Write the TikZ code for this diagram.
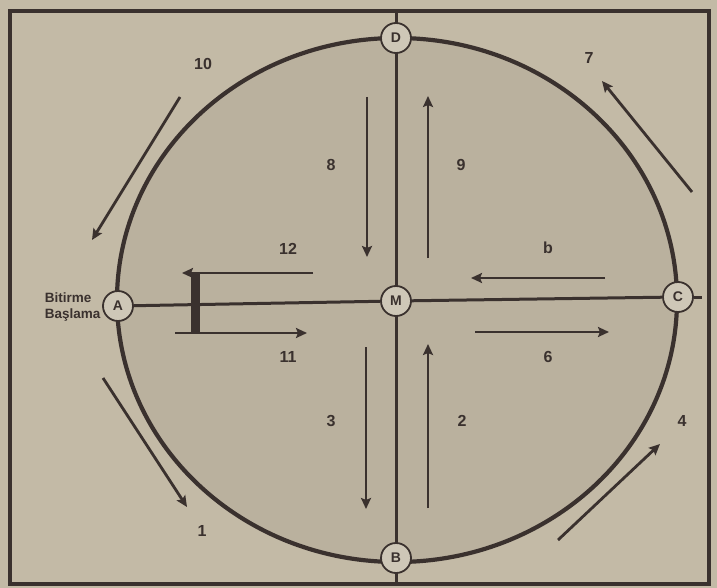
\documentclass[tikz,border=0pt]{standalone}
\usepackage{fontspec}
\setmainfont{Liberation Sans}
\setsansfont{Liberation Sans}
\usetikzlibrary{arrows.meta, positioning}
\definecolor{inkcolor}{HTML}{3A312E}
\definecolor{paperfill}{HTML}{C3BAA6}
\definecolor{discfill}{HTML}{BAB19E}
\definecolor{stationfill}{HTML}{CEC7B7}

\begin{document}
\begin{tikzpicture}[
  x=1pt, y=-1pt, >=Stealth,
  every node/.style={font=\sffamily\bfseries, text=inkcolor},
]

\tikzset{
  station/.style={circle, draw=inkcolor, line width=1.8pt, fill=stationfill,
    minimum size=30pt, inner sep=0pt, font=\sffamily\bfseries\fontsize{14}{14}\selectfont},
  flowline/.style={-{Stealth[length=11pt, width=10pt, inset=2pt]}, inkcolor, line width=2.8pt},
  axis/.style={inkcolor, line width=3pt},
  steplabel/.style={font=\sffamily\bfseries\fontsize{16}{16}\selectfont},
}

\useasboundingbox[fill=paperfill] (0,0) rectangle (717,588);

% ---- frame and track ----
\draw[inkcolor, line width=3.6pt] (10,11) rectangle (709,584);
\coordinate (ctr) at (397,300);
\draw[inkcolor, line width=4.2pt, fill=discfill] (ctr) ellipse [x radius=280, y radius=262];

\coordinate (topend) at (396,11);
\coordinate (botend) at (396,584);
\coordinate (rightend) at (702,297);
\draw[axis] (topend) -- (botend);

% ---- stations ----
\node[station] (D) at (396,38) {D};
\node[station] (B) at (396,558) {B};
\node[station] (A) at (118,306) {A};
\node[station] (M) at (396,301) {M};
\node[station] (C) at (678,297) {C};

\draw[axis] (A) -- (M);
\draw[axis] (M) -- (C);
\draw[axis] (C) -- (rightend);

\node[font=\sffamily\bfseries\fontsize{13.5}{16}\selectfont, align=left, anchor=east]
  (startend) at (104,307) {Bitirme\\Başlama};

% ---- start block at A ----
\coordinate (blocktop) at (195,274);
\coordinate (blockbot) at (195,334);
\draw[inkcolor, line width=9pt] (blocktop) -- (blockbot);

% ---- movement arrows ----
\foreach \nm/\xa/\ya/\xb/\yb in {
    a12/313/273/182/273, a11/175/333/307/333,
    a8/367/97/367/257,   a9/428/258/428/96,
    a3/366/347/366/509,  a2/428/508/428/344,
    a5/605/278/471/278,  a6/475/332/609/332,
    a10/180/97/92/240,   a7/692/192/602/81,
    a1/103/378/187/507,  a4/558/540/660/444} {
  \coordinate (\nm s) at (\xa,\ya);
  \coordinate (\nm e) at (\xb,\yb);
  \draw[flowline] (\nm s) -- (\nm e);
}

% ---- step numbers ----
\node[steplabel] (lab12) at (288,249) {12};
\node[steplabel] (lab11) at (288,357) {11};
\node[steplabel] (lab8)  at (331,165) {8};
\node[steplabel] (lab9)  at (461,165) {9};
\node[steplabel] (lab3)  at (331,421) {3};
\node[steplabel] (lab2)  at (462,421) {2};
\node[steplabel] (lab5)  at (548,248) {b};
\node[steplabel] (lab6)  at (548,357) {6};
\node[steplabel] (lab10) at (203,64)  {10};
\node[steplabel] (lab7)  at (589,58)  {7};
\node[steplabel] (lab1)  at (202,531) {1};
\node[steplabel] (lab4)  at (682,421) {4};

\end{tikzpicture}
\end{document}
